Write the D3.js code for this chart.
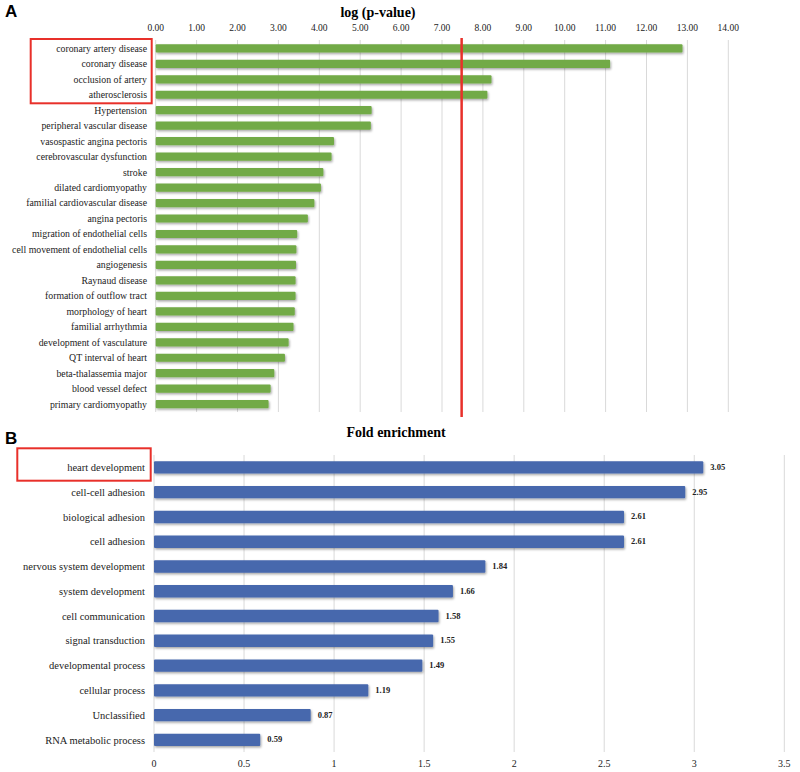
<!DOCTYPE html>
<html><head><meta charset="utf-8">
<script src="https://cdn.jsdelivr.net/npm/d3@7"></script>
<style>body{margin:0;background:#fff}</style>
</head><body>
<svg id="chart" width="800" height="772"></svg>
<script>
const termsA = ["coronary artery disease","coronary disease","occlusion of artery","atherosclerosis","Hypertension","peripheral vascular disease","vasospastic angina pectoris","cerebrovascular dysfunction","stroke","dilated cardiomyopathy","familial cardiovascular disease","angina pectoris","migration of endothelial cells","cell movement of endothelial cells","angiogenesis","Raynaud disease","formation of outflow tract","morphology of heart","familial arrhythmia","development of vasculature","QT interval of heart","beta-thalassemia major","blood vessel defect","primary cardiomyopathy"];
const logP = [12.88,11.11,8.21,8.11,5.28,5.26,4.36,4.30,4.10,4.04,3.88,3.72,3.46,3.44,3.43,3.42,3.42,3.40,3.37,3.25,3.16,2.90,2.81,2.76];
const ticksA = [0,1,2,3,4,5,6,7,8,9,10,11,12,13,14];
const threshold = 7.48;

const termsB = ["heart development","cell-cell adhesion","biological adhesion","cell adhesion","nervous system development","system development","cell communication","signal transduction","developmental process","cellular process","Unclassified","RNA metabolic process"];
const foldEnr = [3.05,2.95,2.61,2.61,1.84,1.66,1.58,1.55,1.49,1.19,0.87,0.59];
const ticksB = [0,0.5,1,1.5,2,2.5,3,3.5];

const svg = d3.select("#chart");
const serif = "'Liberation Serif','Times New Roman',serif";
const defs = svg.append("defs");
const f = defs.append("filter").attr("id","sh").attr("x","-5%").attr("y","-50%").attr("width","110%").attr("height","220%");
f.append("feDropShadow").attr("dx",1).attr("dy",1.5).attr("stdDeviation",1).attr("flood-color","#000").attr("flood-opacity",0.35);

// ---------- Panel A ----------
const xA = d3.scaleLinear().domain([0,14]).range([155.7,728.3]);
const yA = d3.scaleBand().domain(termsA).range([40.6,411.9]).paddingInner(0.47).paddingOuter(0.235);
const gA = svg.append("g");
gA.selectAll("line.grid").data(ticksA).join("line")
  .attr("x1",d=>xA(d)).attr("x2",d=>xA(d)).attr("y1",40).attr("y2",412)
  .attr("stroke","#d9d9d9").attr("stroke-width",1);
gA.selectAll("text.tick").data(ticksA).join("text")
  .attr("x",d=>xA(d)).attr("y",31).attr("text-anchor","middle")
  .attr("font-family",serif).attr("font-size",9.5).attr("fill","#222")
  .text(d=>d3.format(".2f")(d));
gA.append("text").attr("x",378).attr("y",17).attr("text-anchor","middle")
  .attr("font-family",serif).attr("font-weight","bold").attr("font-size",14).text("log (p-value)");
gA.selectAll("rect.bar").data(termsA).join("rect")
  .attr("x",xA(0)).attr("y",d=>yA(d)).attr("height",yA.bandwidth())
  .attr("width",(d,i)=>xA(logP[i])-xA(0)).attr("fill","#72aa46").attr("rx",1)
  .attr("filter","url(#sh)");
gA.selectAll("text.lab").data(termsA).join("text")
  .attr("x",147).attr("y",d=>yA(d)+yA.bandwidth()/2).attr("dy","0.35em")
  .attr("text-anchor","end").attr("font-family",serif).attr("font-size",9.8).attr("fill","#222")
  .text(d=>d);
gA.append("line").attr("x1",xA(threshold)).attr("x2",xA(threshold)).attr("y1",38).attr("y2",417)
  .attr("stroke","#e8302a").attr("stroke-width",2.5);
gA.append("rect").attr("x",30.7).attr("y",39).attr("width",121).attr("height",64.3)
  .attr("fill","none").attr("stroke","#e8302a").attr("stroke-width",2);
svg.append("text").attr("x",5).attr("y",17).attr("font-family","'Liberation Sans',Arial,sans-serif")
  .attr("font-weight","bold").attr("font-size",17).text("A");

// ---------- Panel B ----------
const xB = d3.scaleLinear().domain([0,3.5]).range([154,784.3]);
const yB = d3.scaleBand().domain(termsB).range([455,752.3]).paddingInner(0.5).paddingOuter(0.25);
const gB = svg.append("g");
gB.selectAll("line.grid").data(ticksB).join("line")
  .attr("x1",d=>xB(d)).attr("x2",d=>xB(d)).attr("y1",455).attr("y2",752)
  .attr("stroke","#d9d9d9").attr("stroke-width",1);
gB.selectAll("text.tick").data(ticksB).join("text")
  .attr("x",d=>xB(d)).attr("y",767).attr("text-anchor","middle")
  .attr("font-family",serif).attr("font-size",10).attr("fill","#222")
  .text(d=>d3.format("")(d));
gB.append("text").attr("x",396).attr("y",437).attr("text-anchor","middle")
  .attr("font-family",serif).attr("font-weight","bold").attr("font-size",14).text("Fold enrichment");
gB.selectAll("rect.bar").data(termsB).join("rect")
  .attr("x",xB(0)).attr("y",d=>yB(d)).attr("height",yB.bandwidth())
  .attr("width",(d,i)=>xB(foldEnr[i])-xB(0)).attr("fill","#4768ad").attr("rx",1)
  .attr("filter","url(#sh)");
gB.selectAll("text.val").data(termsB).join("text")
  .attr("x",(d,i)=>xB(foldEnr[i])+7).attr("y",d=>yB(d)+yB.bandwidth()/2).attr("dy","0.3em")
  .attr("font-family",serif).attr("font-weight","bold").attr("font-size",8.5).attr("fill","#222")
  .text((d,i)=>d3.format(".2f")(foldEnr[i]));
gB.selectAll("text.lab").data(termsB).join("text")
  .attr("x",145).attr("y",d=>yB(d)+yB.bandwidth()/2).attr("dy","0.35em")
  .attr("text-anchor","end").attr("font-family",serif).attr("font-size",10.5).attr("fill","#222")
  .text(d=>d);
gB.append("rect").attr("x",17.3).attr("y",448.3).attr("width",133.4).attr("height",32.4)
  .attr("fill","none").attr("stroke","#e8302a").attr("stroke-width",2);
svg.append("text").attr("x",5).attr("y",444).attr("font-family","'Liberation Sans',Arial,sans-serif")
  .attr("font-weight","bold").attr("font-size",17).text("B");
</script>
</body></html>
